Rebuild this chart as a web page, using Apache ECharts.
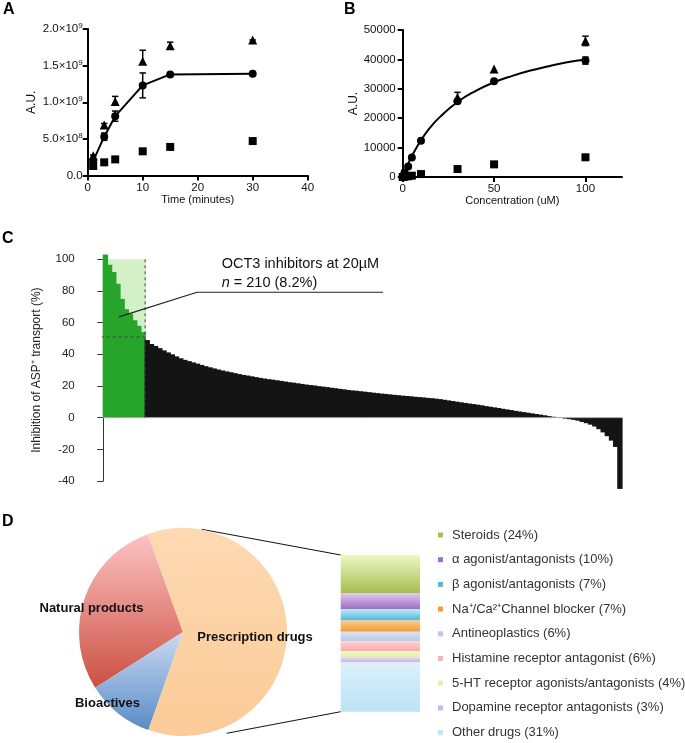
<!DOCTYPE html>
<html><head><meta charset="utf-8">
<script src="https://cdn.jsdelivr.net/npm/echarts@6/dist/echarts.min.js"></script>
<style>html,body{margin:0;padding:0;background:#fff}#c{width:685px;height:743px}</style>
</head><body><div id="c"></div>
<script>
// ---------- Panel A : time course ----------
const aTime = [1, 3, 5, 10, 15, 30];
const aCircle = [0.20e9, 0.53e9, 0.81e9, 1.23e9, 1.38e9, 1.39e9];
const aCircleErr = [0.02e9, 0.05e9, 0.07e9, 0.17e9, 0.02e9, 0.02e9];
const aTriangle = [0.27e9, 0.69e9, 1.01e9, 1.56e9, 1.77e9, 1.85e9];
const aTriangleErrUp = [0.01e9, 0.02e9, 0.07e9, 0.15e9, 0.05e9, 0.0];
const aSquare = [0.13e9, 0.18e9, 0.22e9, 0.33e9, 0.39e9, 0.47e9];
const aSquareErr = [0.04e9, 0.01e9, 0.01e9, 0.01e9, 0.01e9, 0.01e9];
const aYTicks = ['0.0', '5.0×10|8', '1.0×10|9', '1.5×10|9', '2.0×10|9'];

// ---------- Panel B : concentration ----------
const bConc = [0, 1, 3, 5, 10, 30, 50, 100];
const bCircle = [0, 1500, 3600, 6600, 12300, 25800, 32600, 39600];
const bCircleErr = [0, 0, 0, 0, 0, 500, 0, 1200];
const bTriConc = [30, 50, 100];
const bTriangle = [27000, 36700, 46300];
const bTriangleErr = [1800, 0, 1600];
const bSquare = [0, 100, 250, 450, 1000, 2700, 4300, 6700];
const bFitConc = [0, 2, 5, 10, 15, 20, 30, 40, 50, 60, 70, 80, 90, 100];
const bFitVal = [0, 3100, 7100, 12500, 16800, 20200, 25500, 29300, 32200, 34400, 36200, 37700, 39000, 40000];

// ---------- Panel C : screen of compounds (sorted) ----------
const cInhibition = [
  103, 96.5, 92, 84.5, 75, 68.5, 65.5, 61.5, 58, 54,
  49, 46.5, 45.3, 43.9, 42.5, 41.2, 40, 38.7, 37.5, 36.5,
  35.7, 34.9, 34.1, 33.3, 32.5, 31.8, 31.1, 30.4, 29.8, 29.2,
  28.7, 28.1, 27.5, 27.0, 26.6, 26.1, 25.6, 25.1, 24.7, 24.3,
  24.0, 23.6, 23.2, 22.8, 22.4, 22.1, 21.7, 21.3, 20.9, 20.6,
  20.3, 19.9, 19.6, 19.3, 18.9, 18.6, 18.2, 17.9, 17.5, 17.2,
  17.0, 16.7, 16.4, 16.1, 15.8, 15.5, 15.2, 15.0, 14.7, 14.4,
  14.2, 13.9, 13.7, 13.5, 13.2, 13.0, 12.8, 12.5, 12.3, 12.0,
  11.7, 11.3, 10.9, 10.5, 10.1, 9.7, 9.3, 8.9, 8.6, 8.2,
  7.8, 7.3, 6.9, 6.5, 6.1, 5.6, 5.2, 4.8, 4.3, 3.9,
  3.5, 3.1, 2.7, 2.3, 1.9, 1.5, 1.0, 0.6, 0.2, -0.2,
  -0.6, -1.0, -1.4, -1.9, -2.7, -3.5, -4.4, -5.6, -7.3, -9.3,
  -11.7, -14.5, -18.5, -45
];
const cHitCount = 10;        // bars shown in green (inhibitors)
const cThreshold = 51;       // dashed cut-off level
const cNoteLine = [[3.75, 63.6], [22.4, 79.2], [66.9, 79.2]];
const cTitle = 'OCT3 inhibitors at 20µM';
const cSubtitle = ' = 210 (8.2%)';

// ---------- Panel D ----------
const pieNames = ['Natural products', 'Bioactives', 'Prescription drugs'];
const pieValues = [28.5, 10.6, 60.9];
const drugNames = ['Steroids (24%)', 'α agonist/antagonists (10%)', 'β agonist/antagonists (7%)',
  'Na⁺/Ca²⁺Channel blocker (7%)', 'Antineoplastics (6%)', 'Histamine receptor antagonist (6%)',
  '5-HT receptor agonists/antagonists (4%)', 'Dopamine receptor antagonists (3%)', 'Other drugs (31%)'];
const drugPct = [24, 10, 7, 7, 6, 6, 4, 3, 31];

// ---------- styles ----------
const FONT = '"Liberation Sans", Arial, Helvetica, sans-serif';
const pieGrad = [['#fdc3c3', '#cc4f42'], ['#cbdaf1', '#5a8cc7'], ['#fdd9b2', '#fbcb98']];
const drugGrad = [['#eef8c4', '#a5bd4f'], ['#dfc8f2', '#9a6dc1'], ['#bde8f4', '#4db7d6'],
  ['#fccb8f', '#f29a33'], ['#d8e3f3', '#b5c8e6'], ['#fdd3d2', '#f6abab'],
  ['#f3fac9', '#def09c'], ['#e6d9f5', '#c9b2e8'], ['#dcf1fb', '#bce2f4']];
const legendColors = ['#a9c055', '#9d72c4', '#52bad8', '#f39c38', '#b9cbe8', '#f7b2b2', '#e3f2a6', '#cdb8ea', '#c3e5f6'];
const grad = (c) => new echarts.graphic.LinearGradient(0, 0, 0, 1, [{offset: 0, color: c[0]}, {offset: 1, color: c[1]}]);

const chart = echarts.init(document.getElementById('c'), null, {renderer: 'canvas'});

function errBars(xi, yi, rows, capLow) {
  return {
    type: 'custom', xAxisIndex: xi, yAxisIndex: yi, data: rows, z: 3, silent: true,
    encode: {x: 0, y: [1, 2]},
    renderItem: (p, api) => {
      const x = api.value(0), lo = api.value(1), hi = api.value(2);
      const a = api.coord([x, lo]), b = api.coord([x, hi]);
      const w = 3.2, st = {stroke: '#000', lineWidth: 1.5};
      const ch = [
        {type: 'line', shape: {x1: a[0], y1: a[1], x2: b[0], y2: b[1]}, style: st},
        {type: 'line', shape: {x1: b[0] - w, y1: b[1], x2: b[0] + w, y2: b[1]}, style: st}
      ];
      if (capLow) ch.push({type: 'line', shape: {x1: a[0] - w, y1: a[1], x2: a[0] + w, y2: a[1]}, style: st});
      return {type: 'group', children: ch};
    }
  };
}

const axisBlack = {lineStyle: {color: '#000', width: 2}};
const tickBlack = {show: true, length: 5, lineStyle: {color: '#000', width: 2}};
const lblA = {fontSize: 11.5, color: '#111', fontFamily: FONT};
const solid = {color: '#000', opacity: 1};

const total = drugPct.reduce((s, v) => s + v, 0);
const nC = cInhibition.length;
const gridCWidth = 518.7, yOffC = 20.6;
const bandPx = gridCWidth / nC;

const option = {
  animation: false,
  backgroundColor: '#fff',
  textStyle: {fontFamily: FONT},
  grid: [
    {left: 87.7, top: 29, width: 220, height: 146.5},
    {left: 402.7, top: 30, width: 219.3, height: 147},
    {left: 103.3, top: 259.3, width: gridCWidth, height: 221.7},
    {left: 340.7, top: 555, width: 79.3, height: 156.7}
  ],
  xAxis: [
    {type: 'value', gridIndex: 0, min: 0, max: 40, interval: 10, splitLine: {show: false},
      axisLine: axisBlack, axisTick: tickBlack, axisLabel: Object.assign({margin: 6}, lblA),
      name: 'Time (minutes)', nameLocation: 'middle', nameGap: 17,
      nameTextStyle: {fontSize: 11, color: '#111', fontFamily: FONT}},
    {type: 'value', gridIndex: 1, min: 0, max: 120, interval: 50, splitLine: {show: false},
      axisLine: axisBlack, axisTick: tickBlack, axisLabel: Object.assign({margin: 6, showMaxLabel: false}, lblA),
      name: 'Concentration (uM)', nameLocation: 'middle', nameGap: 17,
      nameTextStyle: {fontSize: 11, color: '#111', fontFamily: FONT}},
    {type: 'value', gridIndex: 2, min: 0, max: nC, show: false},
    {type: 'category', gridIndex: 3, data: [''], show: false}
  ],
  yAxis: [
    {type: 'value', gridIndex: 0, min: 0, max: 2e9, interval: 5e8, splitLine: {show: false},
      axisLine: axisBlack, axisTick: tickBlack,
      axisLabel: Object.assign({margin: 5,
        formatter: (v) => { const t = aYTicks[Math.round(v / 5e8)]; const s = t.split('|'); return s.length > 1 ? '{m|' + s[0] + '}{s|' + s[1] + '}' : '{m|' + t + '}'; },
        rich: {m: {fontSize: 11.5, color: '#111', fontFamily: FONT, lineHeight: 14}, s: {fontSize: 8, color: '#111', fontFamily: FONT, verticalAlign: 'top', lineHeight: 14}}}, lblA),
      name: 'A.U.', nameLocation: 'middle', nameGap: 50,
      nameTextStyle: {fontSize: 12, color: '#111', fontFamily: FONT}},
    {type: 'value', gridIndex: 1, min: 0, max: 50000, interval: 10000, splitLine: {show: false},
      axisLine: axisBlack, axisTick: tickBlack, axisLabel: Object.assign({margin: 7, formatter: (v) => String(v)}, lblA),
      name: 'A.U.', nameLocation: 'middle', nameGap: 43,
      nameTextStyle: {fontSize: 12, color: '#111', fontFamily: FONT}},
    {type: 'value', gridIndex: 2, min: -40, max: 100, interval: 20, offset: yOffC, splitLine: {show: false},
      axisLine: {show: true, lineStyle: {color: '#333', width: 1}},
      axisTick: {show: true, length: 6, lineStyle: {color: '#333', width: 1}},
      axisLabel: {fontSize: 11.5, color: '#222', fontFamily: FONT, margin: 8},
      name: 'Inhibition of ASP⁺ transport (%)', nameLocation: 'middle', nameGap: 40,
      nameTextStyle: {fontSize: 12, color: '#222', fontFamily: FONT}},
    {type: 'value', gridIndex: 3, min: 0, max: total, inverse: true, show: false}
  ],
  legend: {
    orient: 'vertical', left: 438, top: 528.5, padding: 0, itemWidth: 5, itemHeight: 5, itemGap: 11.7,
    icon: 'rect', selectedMode: false,
    data: drugNames.map((n, i) => ({name: n, itemStyle: {color: legendColors[i]}})),
    textStyle: {fontSize: 13, color: '#333', fontFamily: FONT, padding: [0, 0, 0, 4], lineHeight: 13}
  },
  series: [
    // Panel A
    {type: 'line', xAxisIndex: 0, yAxisIndex: 0, data: aTime.map((t, i) => [t, aCircle[i]]),
      symbol: 'circle', symbolSize: 8, lineStyle: {color: '#000', width: 2}, itemStyle: solid, z: 4},
    {type: 'scatter', xAxisIndex: 0, yAxisIndex: 0, data: aTime.map((t, i) => [t, aTriangle[i]]),
      symbol: 'triangle', symbolSize: 9, itemStyle: solid, z: 4},
    {type: 'scatter', xAxisIndex: 0, yAxisIndex: 0, data: aTime.map((t, i) => [t, aSquare[i]]),
      symbol: 'rect', symbolSize: 8, itemStyle: solid, z: 4},
    errBars(0, 0, aTime.map((t, i) => [t, aCircle[i] - aCircleErr[i], aCircle[i] + aCircleErr[i]]), true),
    errBars(0, 0, aTime.map((t, i) => [t, aTriangle[i], aTriangle[i] + aTriangleErrUp[i]]), false),
    errBars(0, 0, aTime.map((t, i) => [t, aSquare[i] - aSquareErr[i], aSquare[i] + aSquareErr[i]]), true),
    // Panel B
    {type: 'line', xAxisIndex: 1, yAxisIndex: 1, data: bFitConc.map((c, i) => [c, bFitVal[i]]),
      smooth: true, showSymbol: false, lineStyle: {color: '#000', width: 2}, z: 3},
    {type: 'scatter', xAxisIndex: 1, yAxisIndex: 1, data: bConc.map((c, i) => [c, bCircle[i]]),
      symbol: 'circle', symbolSize: 8, itemStyle: solid, z: 4},
    {type: 'scatter', xAxisIndex: 1, yAxisIndex: 1, data: bTriConc.map((c, i) => [c, bTriangle[i]]),
      symbol: 'triangle', symbolSize: 9, itemStyle: solid, z: 4},
    {type: 'scatter', xAxisIndex: 1, yAxisIndex: 1, data: bConc.map((c, i) => [c, bSquare[i]]),
      symbol: 'rect', symbolSize: 8, itemStyle: solid, z: 4},
    errBars(1, 1, bConc.map((c, i) => [c, bCircle[i] - bCircleErr[i], bCircle[i] + bCircleErr[i]]).filter((r, i) => bCircleErr[i] > 0), true),
    errBars(1, 1, bTriConc.map((c, i) => [c, bTriangle[i] - bTriangleErr[i], bTriangle[i] + bTriangleErr[i]]).filter((r, i) => bTriangleErr[i] > 0), true),
    // Panel C
    {type: 'bar', xAxisIndex: 2, yAxisIndex: 2, barWidth: bandPx + 1.2, barGap: '-100%', z: 1, silent: true,
      data: cInhibition.slice(0, cHitCount).map((v, i) => [i + 0.5, 100]),
      itemStyle: {color: '#d3f0c8'}},
    {type: 'bar', xAxisIndex: 2, yAxisIndex: 2, barWidth: bandPx + 1.2, barGap: '-100%', z: 2, clip: false,
      data: cInhibition.map((v, i) => [i + 0.5, v]),
      itemStyle: {color: (p) => p.dataIndex < cHitCount ? '#27a52a' : '#141414'}},
    {type: 'line', xAxisIndex: 2, yAxisIndex: 2, data: [[0, 0], [nC, 0]], symbol: 'none', z: 3,
      lineStyle: {color: '#aaa', width: 1}},
    {type: 'line', xAxisIndex: 2, yAxisIndex: 2, data: [[cHitCount, 100], [cHitCount, 0]], symbol: 'none', z: 4,
      lineStyle: {color: '#444', width: 1, type: [3, 3]}},
    {type: 'line', xAxisIndex: 2, yAxisIndex: 2, clip: false, data: [[-yOffC / bandPx, cThreshold], [cHitCount, cThreshold]],
      symbol: 'none', z: 4, lineStyle: {color: '#444', width: 1, type: [3, 3]}},
    {type: 'line', xAxisIndex: 2, yAxisIndex: 2, data: cNoteLine, symbol: 'none', z: 5,
      lineStyle: {color: '#222', width: 1.2}},
    // Panel D
    {type: 'pie', center: [183, 632], radius: 104, startAngle: 109.8, clockwise: false,
      label: {show: false}, labelLine: {show: false}, silent: true,
      data: pieNames.map((n, i) => ({name: n, value: pieValues[i], itemStyle: {color: grad(pieGrad[i])}}))},
    ...drugNames.map((n, i) => ({
      type: 'bar', name: n, xAxisIndex: 3, yAxisIndex: 3, stack: 'drugs', barWidth: '100%',
      data: [drugPct[i]], itemStyle: {color: grad(drugGrad[i])}, silent: true
    }))
  ],
  graphic: [
    {type: 'text', left: 3, top: 2, style: {text: 'A', font: 'bold 16px ' + FONT, fill: '#000'}},
    {type: 'text', left: 344, top: 2, style: {text: 'B', font: 'bold 16px ' + FONT, fill: '#000'}},
    {type: 'text', left: 2, top: 231, style: {text: 'C', font: 'bold 16px ' + FONT, fill: '#000'}},
    {type: 'text', left: 2, top: 514, style: {text: 'D', font: 'bold 16px ' + FONT, fill: '#000'}},
    {type: 'text', x: 221.7, y: 264, style: {text: cTitle, font: '14.5px ' + FONT, fill: '#111', verticalAlign: 'middle'}},
    {type: 'text', x: 221.7, y: 283, style: {text: '{i|n}{r|' + cSubtitle + '}', verticalAlign: 'middle',
      rich: {i: {font: 'italic 14.5px ' + FONT, fill: '#111'}, r: {font: '14.5px ' + FONT, fill: '#111'}}}},
    {type: 'text', x: 91.5, y: 608, style: {text: pieNames[0], font: 'bold 13px ' + FONT, fill: '#111', align: 'center', verticalAlign: 'middle'}, z: 10},
    {type: 'text', x: 107.5, y: 703, style: {text: pieNames[1], font: 'bold 13px ' + FONT, fill: '#111', align: 'center', verticalAlign: 'middle'}, z: 10},
    {type: 'text', x: 255, y: 637, style: {text: pieNames[2], font: 'bold 13px ' + FONT, fill: '#111', align: 'center', verticalAlign: 'middle'}, z: 10},
    {type: 'line', shape: {x1: 201.7, y1: 529.3, x2: 340.7, y2: 555}, style: {stroke: '#111', lineWidth: 1}},
    {type: 'line', shape: {x1: 226.7, y1: 733.3, x2: 340.7, y2: 711.7}, style: {stroke: '#111', lineWidth: 1}}
  ]
};
chart.setOption(option);
</script></body></html>
